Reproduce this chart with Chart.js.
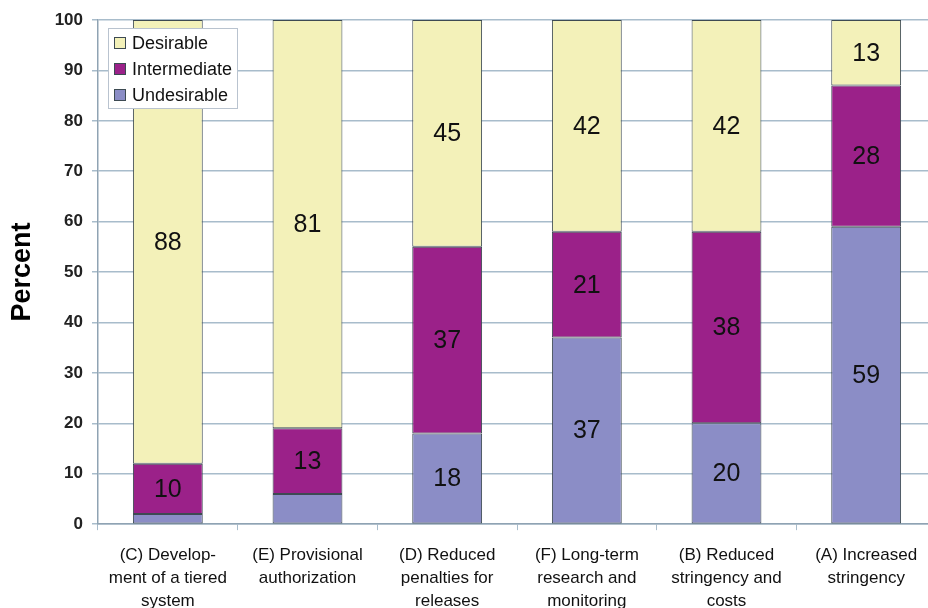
<!DOCTYPE html>
<html>
<head>
<meta charset="utf-8">
<script src="https://cdn.jsdelivr.net/npm/chart.js@4/dist/chart.umd.min.js"></script>
<style>
  html, body { margin: 0; padding: 0; background: #fff; overflow: hidden; }
  #wrap { width: 936px; height: 627px; }
</style>
</head>
<body>
<div id="wrap"><canvas id="chart" width="936" height="627"></canvas></div>
<script>
const categories = [
  ['(C) Develop-', 'ment of a tiered', 'system'],
  ['(E) Provisional', 'authorization'],
  ['(D) Reduced', 'penalties for', 'releases'],
  ['(F) Long-term', 'research and', 'monitoring'],
  ['(B) Reduced', 'stringency and', 'costs'],
  ['(A) Increased', 'stringency']
];
const undesirable = [2, 6, 18, 37, 20, 59];
const intermediate = [10, 13, 37, 21, 38, 28];
const desirable = [88, 81, 45, 42, 42, 13];
const yTicks = [0, 10, 20, 30, 40, 50, 60, 70, 80, 90, 100];

const gridColor = '#a8bccb';
const edgeColor = '#3d4a52';

// numbers written in the middle of each segment (small ones are skipped)
const segmentLabels = {
  id: 'segmentLabels',
  afterDatasetsDraw(chart) {
    const ctx = chart.ctx;
    ctx.save();
    ctx.font = '25px "Liberation Sans", Arial, sans-serif';
    ctx.fillStyle = '#111';
    ctx.textAlign = 'center';
    ctx.textBaseline = 'middle';
    chart.data.datasets.forEach((ds, i) => {
      chart.getDatasetMeta(i).data.forEach((bar, j) => {
        const v = ds.data[j];
        if (v < 10) return;
        ctx.fillText(String(v), bar.x, (bar.y + bar.base) / 2 + 1);
      });
    });
    ctx.restore();
  }
};

// boxed legend in the upper-left corner of the plot
const boxLegend = {
  id: 'boxLegend',
  afterDraw(chart) {
    const ctx = chart.ctx;
    const x = 108, y = 28, w = 129, h = 80;
    ctx.save();
    ctx.fillStyle = '#fff';
    ctx.fillRect(x, y, w, h);
    ctx.strokeStyle = '#b9c3cf';
    ctx.lineWidth = 1;
    ctx.strokeRect(x + 0.5, y + 0.5, w, h);
    ctx.font = '18px "Liberation Sans", Arial, sans-serif';
    ctx.textBaseline = 'middle';
    ctx.textAlign = 'left';
    const items = chart.data.datasets.slice().reverse();
    items.forEach((ds, k) => {
      const cy = y + 15 + k * 26;
      ctx.fillStyle = ds.backgroundColor;
      ctx.fillRect(114, cy - 6, 12, 12);
      ctx.strokeStyle = edgeColor;
      ctx.strokeRect(114.5, cy - 5.5, 11, 11);
      ctx.fillStyle = '#111';
      ctx.fillText(ds.label, 132, cy + 1);
    });
    ctx.restore();
  }
};

new Chart(document.getElementById('chart'), {
  type: 'bar',
  data: {
    labels: categories,
    datasets: [
      { label: 'Undesirable', data: undesirable, backgroundColor: '#8b8dc6' },
      { label: 'Intermediate', data: intermediate, backgroundColor: '#9b2189' },
      { label: 'Desirable', data: desirable, backgroundColor: '#f3f1b9' }
    ].map(d => Object.assign(d, {
      borderColor: edgeColor,
      borderWidth: 1,
      borderSkipped: false,
      barPercentage: 0.5,
      categoryPercentage: 1.0
    }))
  },
  options: {
    responsive: false,
    animation: false,
    layout: { padding: { top: 20, right: 0, left: 0, bottom: 0 } },
    plugins: {
      legend: { display: false },
      tooltip: { enabled: false }
    },
    scales: {
      x: {
        stacked: true,
        grid: { drawOnChartArea: false, drawTicks: true, tickLength: 6, color: gridColor },
        border: { color: '#8fa3b3', width: 1.5 },
        ticks: {
          color: '#111',
          font: { family: '"Liberation Sans", Arial, sans-serif', size: 17, lineHeight: 1.35 },
          padding: 14,
          maxRotation: 0,
          autoSkip: false
        }
      },
      y: {
        stacked: true,
        min: 0,
        max: 100,
        afterFit(scale) { scale.width = 98; },
        afterBuildTicks(scale) { scale.ticks = yTicks.map(v => ({ value: v })); },
        grid: { color: gridColor, lineWidth: 1.5, tickLength: 6 },
        border: { color: '#8fa3b3', width: 1.5 },
        ticks: {
          color: '#222',
          font: { family: '"Liberation Sans", Arial, sans-serif', size: 17, weight: 'bold' },
          padding: 9
        },
        title: {
          display: true,
          text: 'Percent',
          color: '#000',
          font: { family: '"Liberation Sans", Arial, sans-serif', size: 27, weight: 'bold' },
          padding: { top: 6, bottom: 0 }
        }
      }
    }
  },
  plugins: [segmentLabels, boxLegend]
});
</script>
</body>
</html>
